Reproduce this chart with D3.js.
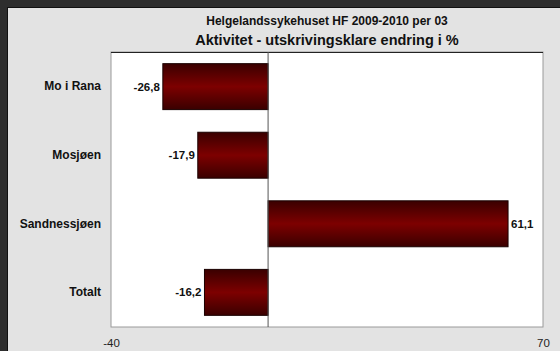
<!DOCTYPE html>
<html>
<head>
<meta charset="utf-8">
<script src="https://cdn.jsdelivr.net/npm/d3@7"></script>
<style>
  body { margin: 0; background: #2e2e2e; }
  svg { display: block; font-family: "Liberation Sans", Arial, sans-serif; }
</style>
</head>
<body>
<svg id="canvas"></svg>
<script>
let categories = ['Mo i Rana', 'Mosjøen', 'Sandnessjøen', 'Totalt'];
let values = [-26.8, -17.9, 61.1, -16.2];
let tickValues = [-40, 70];
let titleLines = ['Helgelandssykehuset HF 2009-2010 per 03', 'Aktivitet - utskrivingsklare endring i %'];

let width = 560;
let height = 351;
let plot = { left: 111, right: 543, top: 52, bottom: 327 };

let canvas = d3.select('#canvas').attr('width', width).attr('height', height);

// background panel
canvas.append('rect').attr('width', width).attr('height', height).attr('fill', '#2e2e2e');
canvas.append('rect').attr('x', 7).attr('y', 7).attr('width', width - 7).attr('height', height - 7).attr('fill', '#111');
canvas.append('rect').attr('x', 8).attr('y', 8).attr('width', width - 8).attr('height', height - 8).attr('fill', '#e3e3e3');

let defs = canvas.append('defs');
let grad = defs.append('linearGradient').attr('id', 'barGrad').attr('x1', 0).attr('y1', 0).attr('x2', 0).attr('y2', 1);
grad.append('stop').attr('offset', '0%').attr('stop-color', '#3a0000');
grad.append('stop').attr('offset', '50%').attr('stop-color', '#7d0000');
grad.append('stop').attr('offset', '100%').attr('stop-color', '#3a0000');

let xScale = d3.scaleLinear().domain([-40, 70]).range([plot.left, plot.right]);
let yScale = d3.scaleBand().domain(categories).range([plot.top, plot.bottom]).paddingInner(0.33).paddingOuter(0.17);

let fmt = v => d3.format('.1f')(v).replace('.', ',').replace('\u2212', '-');

// plot area
canvas.append('rect')
  .attr('x', plot.left).attr('y', plot.top)
  .attr('width', plot.right - plot.left).attr('height', plot.bottom - plot.top)
  .attr('fill', '#fff').attr('stroke', '#9a9a9a').attr('stroke-width', 1);
canvas.append('line')
  .attr('x1', plot.left).attr('x2', plot.right)
  .attr('y1', plot.top + 0.5).attr('y2', plot.top + 0.5)
  .attr('stroke', '#222');

// titles
canvas.append('text').attr('x', (plot.left + plot.right) / 2).attr('y', 25)
  .attr('text-anchor', 'middle').attr('font-size', 12).attr('font-weight', 'bold').attr('fill', '#111')
  .text(titleLines[0]);
canvas.append('text').attr('x', (plot.left + plot.right) / 2).attr('y', 45)
  .attr('text-anchor', 'middle').attr('font-size', 14.5).attr('font-weight', 'bold').attr('fill', '#111')
  .text(titleLines[1]);

let data = categories.map((c, i) => ({ cat: c, value: values[i] }));

// bars
canvas.selectAll('rect.bar').data(data).enter().append('rect')
  .attr('class', 'bar')
  .attr('x', d => xScale(Math.min(0, d.value)))
  .attr('y', d => yScale(d.cat))
  .attr('width', d => Math.abs(xScale(d.value) - xScale(0)))
  .attr('height', yScale.bandwidth())
  .attr('fill', 'url(#barGrad)')
  .attr('stroke', '#1a0000').attr('stroke-width', 1);

// zero line
canvas.append('line')
  .attr('x1', xScale(0)).attr('x2', xScale(0))
  .attr('y1', plot.top).attr('y2', plot.bottom)
  .attr('stroke', '#555').attr('stroke-width', 1);

// value labels
canvas.selectAll('text.val').data(data).enter().append('text')
  .attr('class', 'val')
  .attr('x', d => d.value < 0 ? xScale(d.value) - 3 : xScale(d.value) + 3)
  .attr('y', d => yScale(d.cat) + yScale.bandwidth() / 2 + 4)
  .attr('text-anchor', d => d.value < 0 ? 'end' : 'start')
  .attr('font-size', 11.5).attr('font-weight', 'bold').attr('fill', '#111')
  .text(d => fmt(d.value));

// category axis
let yAxis = d3.axisLeft(yScale).tickSize(0).tickPadding(10);
let yG = canvas.append('g').attr('transform', `translate(${plot.left},0)`).call(yAxis);
yG.select('.domain').remove();
yG.selectAll('text').attr('font-size', 12).attr('font-weight', 'bold').attr('fill', '#111')
  .attr('font-family', '"Liberation Sans", Arial, sans-serif');

// value axis
let xAxis = d3.axisBottom(xScale).tickValues(tickValues).tickSize(0).tickPadding(12)
  .tickFormat(d => String(d));
let xG = canvas.append('g').attr('transform', `translate(0,${plot.bottom})`).call(xAxis);
xG.select('.domain').remove();
xG.selectAll('text').attr('font-size', 11.5).attr('fill', '#222')
  .attr('font-family', '"Liberation Sans", Arial, sans-serif');
</script>
</body>
</html>
